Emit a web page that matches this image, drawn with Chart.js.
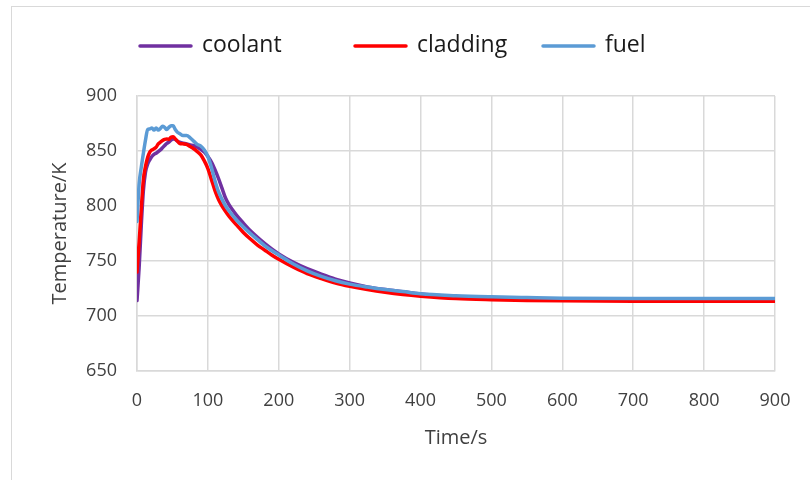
<!DOCTYPE html>
<html>
<head>
<meta charset="utf-8">
<script src="https://cdn.jsdelivr.net/npm/chart.js@4.4.0/dist/chart.umd.min.js"></script>
<style>
  html, body { margin: 0; padding: 0; background: #ffffff; }
  #wrap { position: relative; width: 810px; height: 480px; overflow: hidden; }
  #frame { position: absolute; left: 11px; top: 6px; width: 830px; height: 500px;
           border: 1px solid #d9d9d9; box-sizing: border-box; }
  #c { position: absolute; left: 0; top: 0; }
</style>
</head>
<body>
<div id="wrap">
  <div id="frame"></div>
  <canvas id="c" width="810" height="480"></canvas>
</div>
<script>
// Time samples (s)
const timeS = [0, 3, 6, 9, 12, 15, 18, 21, 24, 27, 30, 33, 36, 39, 42, 45, 48, 51, 54, 57, 60,
  65, 70, 75, 80, 85, 90, 95, 100, 105, 110, 115, 120, 125, 130,
  140, 150, 160, 170, 180, 190, 200,
  220, 240, 260, 280, 300,
  325, 350, 375, 400,
  450, 500, 550, 600,
  700, 800, 900];

// Temperatures (K)
const coolant = [714, 744, 782, 814, 831, 838, 842, 845, 847, 848, 849.5, 851, 853, 855, 857, 858, 860, 861, 860.5, 859, 858,
  857, 856.5, 855.5, 855, 853.5, 851.5, 849, 845, 840, 833, 825, 816, 807, 801,
  792, 784.5, 777.5, 771.5, 766, 761, 756.5,
  749, 743, 738, 733.5, 730,
  726.5, 724, 722, 720,
  717.5, 716.3, 715.6, 715.2,
  714.8, 714.6, 714.5];

const cladding = [740, 767, 797, 824, 836, 844, 849, 851, 852, 853.5, 856.5, 858, 859.5, 860.5, 861, 860.5, 862.5, 863, 861, 859, 857,
  856.5, 856, 854, 852, 849.5, 846.5, 841, 834, 824, 814, 806, 800, 795, 790.5,
  783, 776, 770, 764.5, 760, 755.5, 751.5,
  744.5, 738.5, 734, 730, 727,
  724, 721.5, 719.5, 718,
  715.8, 714.8, 714.2, 713.8,
  713.5, 713.5, 713.5];

const fuel = [786, 820, 835, 848, 860, 869.5, 870, 871, 869, 871, 869, 870.5, 872.5, 871.5, 869.5, 871.5, 873, 873, 869.5, 867, 866,
  864, 864, 862, 859, 856, 854.5, 851, 845, 835, 823, 813, 806, 800, 795.5,
  787.5, 781, 775, 769.5, 764, 759.5, 755.5,
  747.5, 741, 736, 732, 729,
  726.3, 724, 722.2, 720.2,
  718.5, 717.5, 716.8, 716.2,
  716, 716, 716];

const seriesNames = ['coolant', 'cladding', 'fuel'];
const seriesValues = [coolant, cladding, fuel];
const seriesColors = ['#7030A0', '#FF0000', '#5B9BD5'];

const xRange = [0, 900];
const xStep = 100;
const yRange = [650, 900];
const yStep = 50;

const xTitle = 'Time/s';
const yTitle = 'Temperature/K';

const gridColor = '#d9d9d9';
const textColor = '#404040';
const tickFont = { family: 'Open Sans', size: 18 };
const titleFont = { family: 'Open Sans', size: 20 };

// Legend drawn across the top: a short line then the series name
const topLegend = {
  id: 'topLegend',
  afterDraw(chart) {
    const ctx = chart.ctx;
    const lineStarts = [140, 355, 543];
    const lineLen = 51;
    const textGap = 11;
    const y = 46;
    ctx.save();
    ctx.font = '23px "Open Sans"';
    ctx.textBaseline = 'middle';
    ctx.textAlign = 'left';
    chart.data.datasets.forEach((ds, i) => {
      const x0 = lineStarts[i];
      ctx.strokeStyle = ds.borderColor;
      ctx.lineWidth = 3.5;
      ctx.lineCap = 'round';
      ctx.beginPath();
      ctx.moveTo(x0, y);
      ctx.lineTo(x0 + lineLen, y);
      ctx.stroke();
      ctx.fillStyle = '#1a1a1a';
      ctx.fillText(ds.label, x0 + lineLen + textGap, y - 1);
    });
    ctx.restore();
  }
};

const datasets = seriesNames.map((name, i) => ({
  label: name,
  data: timeS.map((t, k) => ({ x: t, y: seriesValues[i][k] })),
  borderColor: seriesColors[i],
  backgroundColor: seriesColors[i],
  borderWidth: 3.5,
  pointRadius: 0,
  fill: false,
  cubicInterpolationMode: 'monotone',
  borderCapStyle: 'round',
  borderJoinStyle: 'round',
  order: seriesNames.length - i
}));

new Chart(document.getElementById('c'), {
  type: 'line',
  data: { datasets },
  options: {
    responsive: false,
    animation: false,
    devicePixelRatio: 1,
    layout: { padding: { top: 96, right: 35, bottom: 0, left: 0 } },
    plugins: {
      legend: { display: false },
      tooltip: { enabled: false }
    },
    scales: {
      x: {
        type: 'linear',
        min: xRange[0],
        max: xRange[1],
        afterFit(scale) { scale.height = 109; },
        ticks: { stepSize: xStep, padding: 19, color: textColor, font: tickFont, maxRotation: 0 },
        grid: { color: gridColor, lineWidth: 1.5, drawTicks: false },
        border: { color: gridColor, width: 1.5 },
        title: { display: true, text: xTitle, color: textColor, font: titleFont, padding: { top: 0, bottom: 30 } }
      },
      y: {
        type: 'linear',
        min: yRange[0],
        max: yRange[1],
        afterFit(scale) { scale.width = 137; },
        ticks: { stepSize: yStep, padding: 20, color: textColor, font: tickFont },
        grid: { color: gridColor, lineWidth: 1.5, drawTicks: false },
        border: { color: gridColor, width: 1.5 },
        title: { display: true, text: yTitle, color: textColor, font: titleFont, padding: { top: 48, bottom: 0 } }
      }
    }
  },
  plugins: [topLegend]
});
</script>
</body>
</html>
